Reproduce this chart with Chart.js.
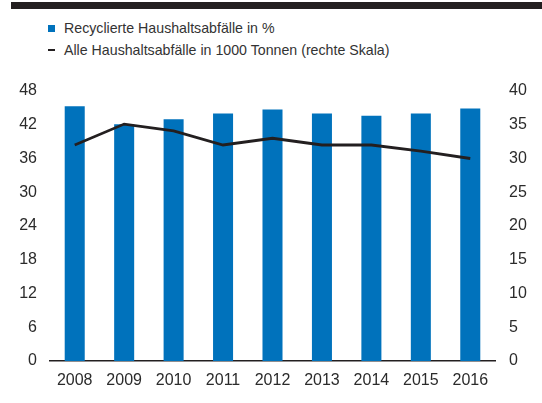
<!DOCTYPE html>
<html>
<head>
<meta charset="utf-8">
<script src="https://cdn.jsdelivr.net/npm/chart.js@4/dist/chart.umd.min.js"></script>
<style>
  html, body { margin: 0; padding: 0; background: #fff; }
  #wrap { position: relative; width: 542px; height: 403px; font-family: "Liberation Sans", Arial, sans-serif; }
  #topbar { position: absolute; left: 11px; top: 2px; width: 531px; height: 7px; background: #231f20; }
  .legend { position: absolute; left: 48px; font-size: 14.2px; color: #333; line-height: 16px; }
  .legend span.box { display: inline-block; width: 7px; height: 7px; background: #0072bc; margin-right: 9px; vertical-align: 1px; }
  .legend span.dash { display: inline-block; width: 7px; height: 2px; background: #231f20; margin-right: 9px; vertical-align: 4px; }
  canvas { position: absolute; left: 0; top: 0; }
</style>
</head>
<body>
<div id="wrap">
  <div id="topbar"></div>
  <div class="legend" style="top:20px"><span class="box"></span>Recyclierte Haushaltsabfälle in %</div>
  <div class="legend" style="top:42px"><span class="dash"></span>Alle Haushaltsabfälle in 1000 Tonnen (rechte Skala)</div>
  <canvas id="chart" width="542" height="403"></canvas>
</div>
<script>
const years = ["2008", "2009", "2010", "2011", "2012", "2013", "2014", "2015", "2016"];
const recycled = [45.3, 42.1, 43.0, 44.0, 44.7, 44.0, 43.6, 44.0, 44.9];
const totalWaste = [32.0, 35.1, 34.1, 32.0, 33.0, 32.0, 32.0, 31.1, 30.0];
const leftTicks = [0, 6, 12, 18, 24, 30, 36, 42, 48];
const rightTicks = [0, 5, 10, 15, 20, 25, 30, 35, 40];

const tickFont = { family: "Liberation Sans", size: 16 };
const tickColor = "#2b2b2b";

const ctx = document.getElementById("chart");
new Chart(ctx, {
  type: "bar",
  data: {
    labels: years,
    datasets: [
      {
        type: "line",
        data: totalWaste,
        yAxisID: "y2",
        borderColor: "#231f20",
        borderWidth: 2.8,
        pointRadius: 0,
        tension: 0,
        order: 0,
      },
      {
        type: "bar",
        data: recycled,
        yAxisID: "y",
        backgroundColor: "#0072bc",
        barPercentage: 0.405,
        categoryPercentage: 1,
        order: 1,
      },
    ],
  },
  options: {
    responsive: false,
    animation: false,
    layout: { padding: { top: 91, bottom: 0, left: 0, right: 0 } },
    plugins: { legend: { display: false }, tooltip: { enabled: false } },
    scales: {
      x: {
        grid: { display: false, drawTicks: false },
        border: { display: true, color: "#231f20", width: 1.5 },
        ticks: { font: tickFont, color: tickColor, padding: 10, maxRotation: 0 },
        afterFit(scale) { scale.height = 42; },
      },
      y: {
        position: "left",
        min: 0,
        max: 48,
        afterBuildTicks(scale) { scale.ticks = leftTicks.map((v) => ({ value: v })); },
        grid: { display: false, drawTicks: false },
        border: { display: false },
        ticks: { font: tickFont, color: tickColor, padding: 13 },
        afterFit(scale) { scale.width = 50; },
      },
      y2: {
        position: "right",
        min: 0,
        max: 40,
        afterBuildTicks(scale) { scale.ticks = rightTicks.map((v) => ({ value: v })); },
        grid: { display: false, drawTicks: false },
        border: { display: false },
        ticks: { font: tickFont, color: tickColor, padding: 14 },
        afterFit(scale) { scale.width = 47; },
      },
    },
  },
});
</script>
</body>
</html>
